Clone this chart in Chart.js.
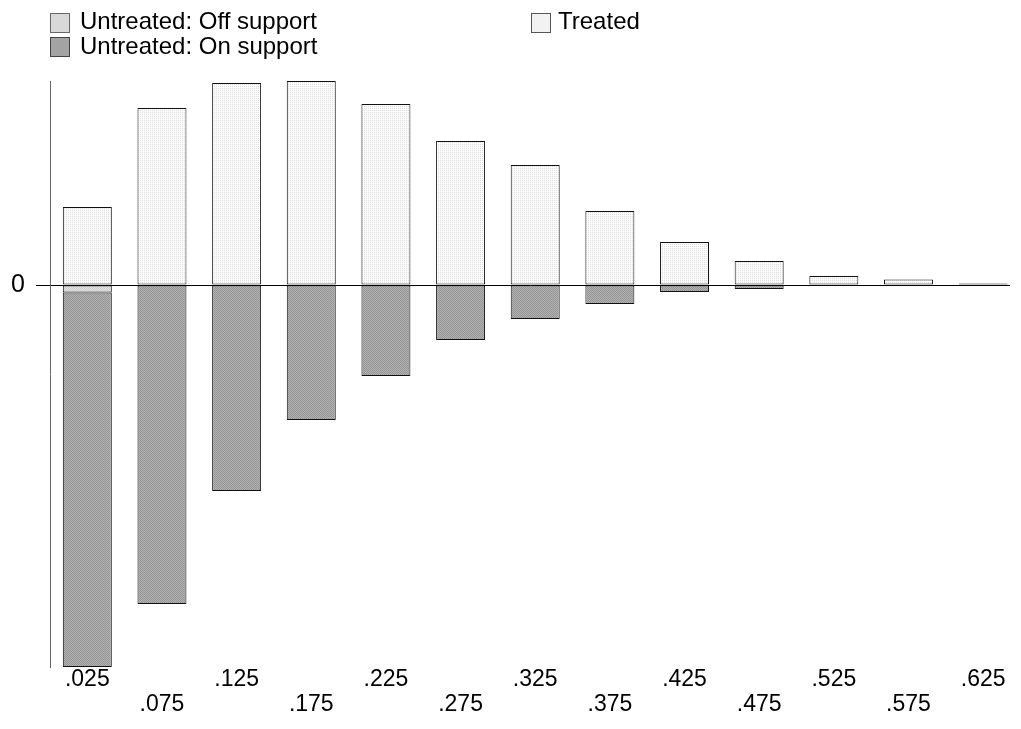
<!DOCTYPE html>
<html><head><meta charset="utf-8">
<script src="https://cdn.jsdelivr.net/npm/chart.js@4/dist/chart.umd.min.js"></script>
<style>
html,body{margin:0;padding:0;background:#fff;}
#wrap{position:relative;width:1021px;height:729px;overflow:hidden;font-family:"Liberation Sans",Arial,sans-serif;}
#c{position:absolute;left:0;top:0;}
.lg{position:absolute;font-size:24px;line-height:24px;color:#000;white-space:nowrap;}
.bx{position:absolute;width:18px;height:18px;border:1px solid #555;box-sizing:content-box;}
</style></head><body>
<div id="wrap">
<canvas id="c" width="1021" height="729"></canvas>
</div>
<script>
// ---- data ----
const xValues = [0.025, 0.075, 0.125, 0.175, 0.225, 0.275, 0.325, 0.375, 0.425, 0.475, 0.525, 0.575, 0.625];
const xTickLabels = ['.025', '.075', '.125', '.175', '.225', '.275', '.325', '.375', '.425', '.475', '.525', '.575', '.625'];
const treated    = [78, 177, 202, 204, 181, 144, 120, 74, 43, 24, 9, 5.5, 1.5];
const offSupport = [-7.5, 0, 0, 0, 0, 0, 0, 0, 0, 0, 0, 0, 0];
const onSupport  = [-374.5, -319, -206, -135, -91, -55, -34, -19, -7, -4, 0, 0, 0];
const yTickValues = [0];
const yTickLabels = ['0'];
const seriesNames = ['Untreated: Off support', 'Untreated: On support', 'Treated'];

// ---- fills ----
function pattern(bg, dot, checker) {
  const c = document.createElement('canvas');
  c.width = 2; c.height = 2;
  const g = c.getContext('2d');
  g.fillStyle = bg; g.fillRect(0, 0, 2, 2);
  g.fillStyle = dot; g.fillRect(0, 0, 1, 1);
  if (checker) g.fillRect(1, 1, 1, 1);
  return g.createPattern(c, 'repeat');
}
const ctx = document.getElementById('c').getContext('2d');
const patOff = pattern('#e4e4e4', '#cdcdcd', true);
const patOn = pattern('#b2b2b2', '#959595', true);
const patTr = pattern('#fbfbfb', '#dedede', false);

// ---- legend (HTML text) ----
const wrap = document.getElementById('wrap');
const legendItems = [
  {name: seriesNames[0], fill: '#d9d9d9', border: '#666', bx: 50, by: 13, tx: 80, ty: 9},
  {name: seriesNames[1], fill: '#a3a3a3', border: '#444', bx: 50, by: 37, tx: 80, ty: 34},
  {name: seriesNames[2], fill: '#f2f2f2', border: '#555', bx: 531, by: 13, tx: 558, ty: 9}
];
legendItems.forEach(it => {
  const b = document.createElement('div');
  b.className = 'bx';
  b.style.left = it.bx + 'px'; b.style.top = it.by + 'px';
  b.style.background = it.fill; b.style.borderColor = it.border;
  wrap.appendChild(b);
  const t = document.createElement('div');
  t.className = 'lg';
  t.style.left = it.tx + 'px'; t.style.top = it.ty + 'px';
  t.textContent = it.name;
  wrap.appendChild(t);
});

// ---- chart ----
const FONT = '"Liberation Sans", Arial, sans-serif';
function pts(arr) { return xValues.map((x, i) => ({x: x, y: arr[i]})); }
const common = {borderColor: '#111', borderWidth: 1, borderSkipped: false, barPercentage: 0.656, categoryPercentage: 1};

new Chart(ctx, {
  type: 'bar',
  data: {
    datasets: [
      Object.assign({label: seriesNames[0], data: pts(offSupport), backgroundColor: patOff}, common),
      Object.assign({label: seriesNames[1], data: pts(onSupport), backgroundColor: patOn}, common),
      Object.assign({label: seriesNames[2], data: pts(treated), backgroundColor: patTr}, common)
    ]
  },
  options: {
    responsive: false,
    animation: false,
    devicePixelRatio: 1,
    layout: {padding: {left: 0, right: 11, top: 81, bottom: 0}},
    plugins: {legend: {display: false}, tooltip: {enabled: false}},
    scales: {
      x: {
        type: 'linear', min: 0, max: 0.643, offset: false, stacked: true,
        grid: {display: false, drawTicks: false},
        border: {display: false},
        afterBuildTicks: s => { s.ticks = xValues.map(v => ({value: v})); },
        afterFit: s => { s.height = 729 - 667; },
        ticks: {
          autoSkip: false, maxRotation: 0, minRotation: 0, padding: 0, color: '#000',
          font: {family: FONT, size: 23, lineHeight: 25 / 23},
          callback: (v, i) => (i % 2 ? ['', xTickLabels[i]] : xTickLabels[i])
        }
      },
      y: {
        min: -382, max: 204, stacked: true,
        grid: {display: true, drawOnChartArea: true, drawTicks: true, tickLength: 14, color: '#000', lineWidth: 1},
        border: {display: true, color: '#666', width: 1},
        afterBuildTicks: s => { s.ticks = yTickValues.map(v => ({value: v})); },
        afterFit: s => { s.width = 50; },
        ticks: {
          padding: 11, color: '#000',
          font: {family: FONT, size: 25},
          callback: (v, i) => yTickLabels[i]
        }
      }
    }
  }
});
</script>
</body></html>
